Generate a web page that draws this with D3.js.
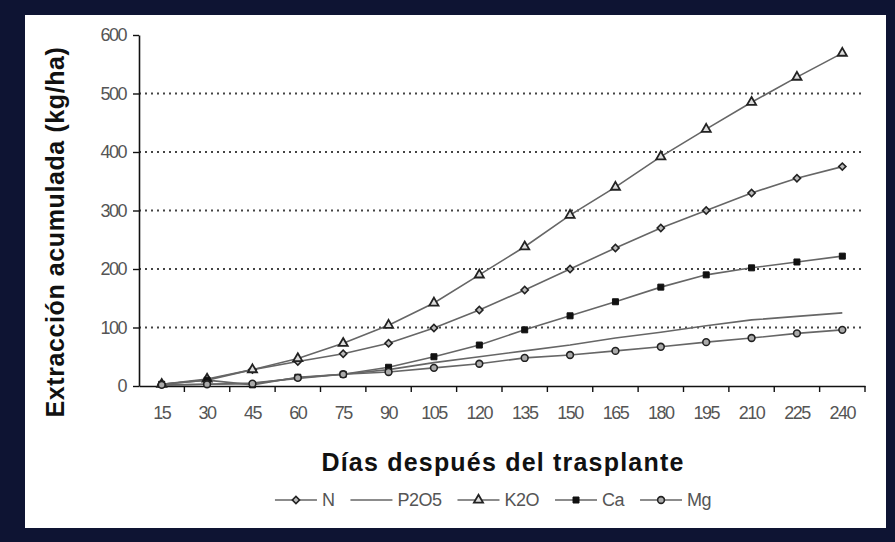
<!DOCTYPE html>
<html><head><meta charset="utf-8">
<script src="https://cdn.jsdelivr.net/npm/d3@7"></script>
<style>body{margin:0;background:#0e1433;}svg{display:block;}</style>
</head><body>
<script>
const days = [15,30,45,60,75,90,105,120,135,150,165,180,195,210,225,240];
const N    = [3,10,28,42,55,73,99,130,164,200,236,270,300,330,355,375];
const P2O5 = [1,3,5,13,20,28,40,50,60,70,82,92,103,113,119,125];
const K2O  = [3,12,28,47,73,104,142,190,238,292,340,392,439,485,528,569];
const Ca   = [3,10,2,15,20,32,50,70,96,120,144,169,190,202,212,222];
const Mg   = [2,3,4,14,20,24,31,38,48,53,60,67,75,82,90,96];
const yTicks = [0,100,200,300,400,500,600];
const seriesNames = ["N","P2O5","K2O","Ca","Mg"];
const seriesData = [N,P2O5,K2O,Ca,Mg];
const markers = ["diamond","none","triangle","square","circle"];

const W=895,H=542;
const svg=d3.select("body").append("svg").attr("width",W).attr("height",H);
svg.append("rect").attr("width",W).attr("height",H).attr("fill","#0e1433");
svg.append("rect").attr("x",25).attr("y",15).attr("width",861).attr("height",513).attr("fill","#ffffff");

const L=139,R=865,T=35,B=386;
const x=d3.scaleBand().domain(days).range([L,R]).padding(0);
const y=d3.scaleLinear().domain([0,600]).range([B,T]);
const cx=d=>x(d)+x.bandwidth()/2;

// gridlines
svg.append("g").selectAll("line").data(yTicks.filter(t=>t>0&&t<600)).join("line")
  .attr("x1",L).attr("x2",R).attr("y1",d=>y(d)).attr("y2",d=>y(d))
  .attr("stroke","#444").attr("stroke-width",1.8).attr("stroke-dasharray","2,4");

// y axis
const ya=svg.append("g").attr("transform",`translate(${L},0)`)
  .call(d3.axisLeft(y).tickValues(yTicks).tickSize(6).tickPadding(7).tickSizeOuter(0));
ya.select(".domain").attr("stroke","#111").attr("stroke-width",1.6);
ya.selectAll(".tick line").attr("stroke","#111").attr("stroke-width",1.4);
ya.selectAll("text").attr("font-family","Liberation Sans, Arial, sans-serif").attr("font-size",18)
  .attr("fill","#555").attr("letter-spacing",-1.5);

// x axis: labels at band centers
const xa=svg.append("g").attr("transform",`translate(0,${B})`)
  .call(d3.axisBottom(x).tickSize(0).tickPadding(20).tickSizeOuter(0));
xa.select(".domain").attr("stroke","#111").attr("stroke-width",1.6);
xa.selectAll("text").attr("font-family","Liberation Sans, Arial, sans-serif").attr("font-size",18)
  .attr("fill","#555").attr("letter-spacing",-1.5);
// boundary ticks
svg.append("g").selectAll("line").data(days.slice(1).concat(["end"])).join("line")
  .attr("x1",d=>d==="end"?R:x(d)).attr("x2",d=>d==="end"?R:x(d))
  .attr("y1",B).attr("y2",B+6).attr("stroke","#111").attr("stroke-width",1.4);

// lines
const line=d3.line().x((d,i)=>cx(days[i])).y(d=>y(d));
seriesData.forEach((s,k)=>{
  svg.append("path").datum(s).attr("d",line).attr("fill","none")
    .attr("stroke","#666").attr("stroke-width",1.6);
});

function drawMarker(g,type,px,py){
  if(type==="diamond"){
    g.append("path").attr("d",d3.symbol(d3.symbolSquare,26)()).attr("transform",`translate(${px},${py}) rotate(45)`)
      .attr("fill","#bbb").attr("stroke","#222").attr("stroke-width",1.6);
  } else if(type==="triangle"){
    g.append("path").attr("d",d3.symbol(d3.symbolTriangle,36)()).attr("transform",`translate(${px},${py})`)
      .attr("fill","#ddd").attr("stroke","#222").attr("stroke-width",1.8);
  } else if(type==="square"){
    g.append("path").attr("d",d3.symbol(d3.symbolSquare,36)()).attr("transform",`translate(${px},${py})`)
      .attr("fill","#111").attr("stroke","#111").attr("stroke-width",1);
  } else if(type==="circle"){
    g.append("path").attr("d",d3.symbol(d3.symbolCircle,36)()).attr("transform",`translate(${px},${py})`)
      .attr("fill","#aaa").attr("stroke","#222").attr("stroke-width",1.6);
  }
}
const mg=svg.append("g");
seriesData.forEach((s,k)=>{
  if(markers[k]==="none")return;
  s.forEach((v,i)=>drawMarker(mg,markers[k],cx(days[i]),y(v)));
});

// titles
svg.append("text").attr("x",503).attr("y",471).attr("text-anchor","middle")
  .attr("font-family","Liberation Sans, Arial, sans-serif").attr("font-weight","bold")
  .attr("font-size",25).attr("letter-spacing",1.2).attr("fill","#111").text("Días después del trasplante");
svg.append("text").attr("transform","translate(64,232) rotate(-90)").attr("text-anchor","middle")
  .attr("font-family","Liberation Sans, Arial, sans-serif").attr("font-weight","bold")
  .attr("font-size",25).attr("letter-spacing",0.6).attr("fill","#111").text("Extracción acumulada (kg/ha)");

// legend
const lg=svg.append("g");
let lx=0;
seriesNames.forEach((n,k)=>{
  const g=lg.append("g").attr("transform",`translate(${lx},0)`);
  g.append("line").attr("x1",0).attr("x2",42).attr("y1",0).attr("y2",0).attr("stroke","#666").attr("stroke-width",1.6);
  drawMarker(g,markers[k],21,0);
  const t=g.append("text").attr("x",47).attr("y",6).attr("font-family","Liberation Sans, Arial, sans-serif")
    .attr("font-size",18).attr("fill","#555").attr("letter-spacing",-0.5).text(n);
  lx+=47+t.node().getComputedTextLength()+16;
});
const total=lx-16;
lg.attr("transform",`translate(${493-total/2},500)`);
</script>
</body></html>
